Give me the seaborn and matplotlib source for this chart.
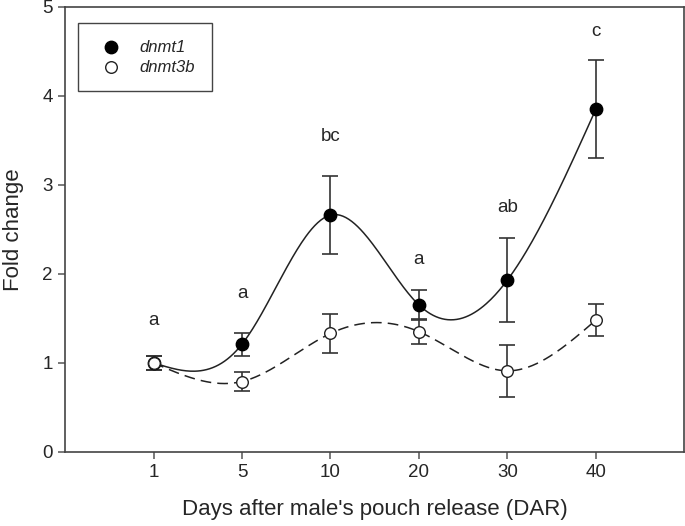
import numpy as np
import pandas as pd
import matplotlib
matplotlib.use('Agg')
import matplotlib.pyplot as plt
import seaborn as sns

days = ['1', '5', '10', '20', '30', '40']
dnmt1 = [1.00, 1.21, 2.66, 1.65, 1.93, 3.85]
dnmt1_err = [0.08, 0.13, 0.44, 0.17, 0.47, 0.55]
dnmt3b = [1.00, 0.79, 1.33, 1.35, 0.91, 1.48]
dnmt3b_err = [0.08, 0.11, 0.22, 0.14, 0.29, 0.18]
letters = ['a', 'a', 'bc', 'a', 'ab', 'c']
letter_y = [1.48, 1.78, 3.54, 2.16, 2.75, 4.72]


def natural_spline(x, y, n=300):
    # plain natural cubic spline, like sigmaplot's smooth line
    x = np.asarray(x, float)
    y = np.asarray(y, float)
    k = len(x)
    h = np.diff(x)
    A = np.zeros((k, k))
    b = np.zeros(k)
    A[0, 0] = A[-1, -1] = 1
    for i in range(1, k - 1):
        A[i, i - 1] = h[i - 1]
        A[i, i] = 2 * (h[i - 1] + h[i])
        A[i, i + 1] = h[i]
        b[i] = 6 * ((y[i + 1] - y[i]) / h[i] - (y[i] - y[i - 1]) / h[i - 1])
    M = np.linalg.solve(A, b)
    xs = np.linspace(x[0], x[-1], n)
    j = np.clip(np.searchsorted(x, xs) - 1, 0, k - 2)
    t0 = x[j + 1] - xs
    t1 = xs - x[j]
    hj = h[j]
    ys = (M[j] * t0**3 / (6 * hj) + M[j + 1] * t1**3 / (6 * hj)
          + (y[j] / hj - M[j] * hj / 6) * t0
          + (y[j + 1] / hj - M[j + 1] * hj / 6) * t1)
    return xs, ys


pos = np.arange(1, len(days) + 1)

sns.set_style('ticks')
plt.rcParams['font.family'] = ['Liberation Sans', 'DejaVu Sans']

fig = plt.figure(figsize=(6.85, 5.26), dpi=100)
ax = fig.add_axes([0.095, 0.141, 0.904, 0.846])

xs, ys = natural_spline(pos, dnmt1)
sns.lineplot(x=xs, y=ys, ax=ax, color='#222222', linewidth=1.1, sort=False)
xs, ys = natural_spline(pos, dnmt3b)
sns.lineplot(x=xs, y=ys, ax=ax, color='#222222', linewidth=1.1, sort=False,
             dashes=False, linestyle=(0, (7, 4)))

ax.errorbar(pos, dnmt1, yerr=dnmt1_err, fmt='none', ecolor='#333333',
            elinewidth=1.2, capsize=6, capthick=1.2, zorder=3)
ax.errorbar(pos, dnmt3b, yerr=dnmt3b_err, fmt='none', ecolor='#333333',
            elinewidth=1.2, capsize=6, capthick=1.2, zorder=3)

sns.scatterplot(x=pos, y=dnmt1, ax=ax, s=80, color='black',
                edgecolor='black', linewidth=1, zorder=4, label='dnmt1')
sns.scatterplot(x=pos, y=dnmt3b, ax=ax, s=70, color='white',
                edgecolor='#222222', linewidth=1, zorder=4, label='dnmt3b')

for p, lab, ly in zip(pos, letters, letter_y):
    ax.text(p, ly, lab, ha='center', va='center', fontsize=13.5)

ax.set_xlim(0, 7)
ax.set_ylim(0, 5)
ax.set_xticks(pos)
ax.set_xticklabels(days)
ax.set_yticks([0, 1, 2, 3, 4, 5])
ax.tick_params(axis='both', labelsize=13.5, length=5, width=1.1,
               color='#555555', direction='out', pad=4)
ax.set_xlabel("Days after male's pouch release (DAR)", fontsize=16, labelpad=13)
ax.set_ylabel('Fold change', fontsize=16, labelpad=13)
for s in ax.spines.values():
    s.set_linewidth(1.2)
    s.set_color('#444444')

leg = ax.legend(loc='upper left', bbox_to_anchor=(0.021, 0.964),
                prop={'style': 'italic', 'size': 12}, fancybox=False,
                framealpha=1, edgecolor='#444444', borderpad=1.0,
                handlelength=2.0, handletextpad=0.7, labelspacing=0.3,
                borderaxespad=0)
leg.get_frame().set_linewidth(1.0)

fig.savefig('out.png', dpi=100)
